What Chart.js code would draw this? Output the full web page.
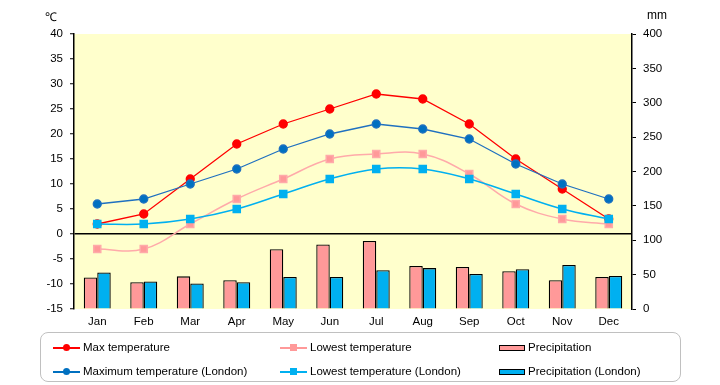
<!DOCTYPE html>
<html>
<head>
<meta charset="utf-8">
<script src="https://cdn.jsdelivr.net/npm/chart.js@4/dist/chart.umd.min.js"></script>
<style>
  body { margin: 0; background: #fff; font-family: "Liberation Sans", Arial, sans-serif; }
  #wrap { position: relative; width: 720px; height: 385px; }
  #chart { position: absolute; left: 0; top: 0; }
  .unit { position: absolute; font-size: 12px; color: #000; }
  #legend { position: absolute; left: 40px; top: 332px; width: 641px; height: 50px;
            border: 1px solid #c0c0c0; border-radius: 8px; box-sizing: border-box; }
  .item { position: absolute; font-size: 11.5px; color: #000; line-height: 14px; white-space: nowrap; }
  .sym { position: absolute; }
</style>
</head>
<body>
<div id="wrap">
  <canvas id="chart" width="720" height="385"></canvas>
  <div class="unit" style="left:45px;top:8px;">℃</div>
  <div class="unit" style="left:647px;top:8px;">mm</div>
  <div id="legend"></div>
</div>
<script>
// 月份
const months = ['Jan', 'Feb', 'Mar', 'Apr', 'May', 'Jun', 'Jul', 'Aug', 'Sep', 'Oct', 'Nov', 'Dec'];

// 气温 (℃)
const maxTemp = [2, 4, 11, 18, 22, 25, 28, 27, 22, 15, 9, 3];
const lowTemp = [-3, -3, 2, 7, 11, 15, 16, 16, 12, 6, 3, 2];
const maxTempLondon = [6, 7, 10, 13, 17, 20, 22, 21, 19, 14, 10, 7];
const lowTempLondon = [2, 2, 3, 5, 8, 11, 13, 13, 11, 8, 5, 3];

// 降水量 (mm)
const precip = [46, 39, 47.5, 42, 87, 94, 99, 62.5, 61, 55, 42, 46.5];
const precipLondon = [53, 40, 37, 39, 46.5, 46.5, 56.5, 59.5, 51, 58, 64, 48];

// 坐标轴刻度
const tempTicks = { min: -15, max: 40, step: 5 };
const rainTicks = { min: 0, max: 400, step: 50 };

// 图区背景
const plotBg = {
    id: 'plotBg',
    beforeDraw(chart) {
        const { ctx, chartArea: a } = chart;
        ctx.save();
        ctx.fillStyle = '#FFFFCC';
        ctx.fillRect(a.left, a.top, a.right - a.left, a.bottom - a.top);
        ctx.restore();
    }
};

const tickFont = { family: '"Liberation Sans", Arial, sans-serif', size: 11.5 };

new Chart(document.getElementById('chart'), {
    type: 'bar',
    data: {
        labels: months,
        datasets: [
            {
                label: 'Max temperature', type: 'line', data: maxTemp, yAxisID: 'y',
                borderColor: '#FF0000', backgroundColor: '#FF0000', borderWidth: 1.3,
                pointRadius: 4, pointStyle: 'circle', tension: 0, order: 4
            },
            {
                label: 'Lowest temperature', type: 'line', data: lowTemp, yAxisID: 'y',
                borderColor: '#FFAAAA', backgroundColor: '#FF9999', borderWidth: 1.5,
                pointRadius: 5, pointStyle: 'rect', tension: 0.4, order: 3
            },
            {
                label: 'Maximum temperature (London)', type: 'line', data: maxTempLondon, yAxisID: 'y',
                borderColor: '#1F70C0', backgroundColor: '#0070C0', borderWidth: 1.3,
                pointRadius: 4, pointStyle: 'circle', tension: 0, order: 2
            },
            {
                label: 'Lowest temperature (London)', type: 'line', data: lowTempLondon, yAxisID: 'y',
                borderColor: '#00B0F0', backgroundColor: '#00B0F0', borderWidth: 1.5,
                pointRadius: 5, pointStyle: 'rect', tension: 0.4, order: 1
            },
            {
                label: 'Precipitation', data: precip, yAxisID: 'y1',
                backgroundColor: '#FF9999', borderColor: '#000', borderWidth: 1.3,
                barPercentage: 1.0, categoryPercentage: 0.58, order: 10
            },
            {
                label: 'Precipitation (London)', data: precipLondon, yAxisID: 'y1',
                backgroundColor: '#00B0F0', borderColor: '#000', borderWidth: 1.3,
                barPercentage: 1.0, categoryPercentage: 0.58, order: 10
            }
        ]
    },
    options: {
        responsive: false,
        animation: false,
        layout: { padding: { left: 0, right: 0, top: 34, bottom: 0 } },
        plugins: {
            legend: { display: false },
            tooltip: { enabled: false }
        },
        scales: {
            x: {
                grid: { display: false },
                border: { display: false },
                ticks: { color: '#000', font: tickFont, padding: -2 },
                afterFit(s) { s.height = 76; }
            },
            y: {
                position: 'left',
                min: tempTicks.min, max: tempTicks.max,
                ticks: { stepSize: tempTicks.step, color: '#000', font: tickFont, padding: 7 },
                grid: {
                    color: (c) => (c.tick && c.tick.value === 0 ? '#000' : 'rgba(0,0,0,0)'),
                    lineWidth: 1.5,
                    tickColor: '#000', tickLength: 4, tickWidth: 1
                },
                border: { display: true, color: '#000', width: 1.5 },
                afterFit(s) { s.width = 74; }
            },
            y1: {
                position: 'right',
                min: rainTicks.min, max: rainTicks.max,
                ticks: { stepSize: rainTicks.step, color: '#000', font: tickFont, padding: 7 },
                grid: { drawOnChartArea: false, tickColor: '#000', tickLength: 4 },
                border: { display: true, color: '#000', width: 1.5 },
                afterFit(s) { s.width = 88; }
            }
        }
    },
    plugins: [plotBg]
});

// 图例
const legendItems = [
    { text: 'Max temperature', x: 12, y: 15, kind: 'dot', color: '#FF0000' },
    { text: 'Maximum temperature (London)', x: 12, y: 39, kind: 'dot', color: '#0070C0' },
    { text: 'Lowest temperature', x: 239, y: 15, kind: 'sq', color: '#FF9999' },
    { text: 'Lowest temperature (London)', x: 239, y: 39, kind: 'sq', color: '#00B0F0' },
    { text: 'Precipitation', x: 458, y: 15, kind: 'bar', color: '#FF9999' },
    { text: 'Precipitation (London)', x: 458, y: 39, kind: 'bar', color: '#00B0F0' }
];
const legend = document.getElementById('legend');
legendItems.forEach(it => {
    if (it.kind === 'bar') {
        const r = document.createElement('div');
        r.className = 'sym';
        r.style.cssText = `left:${it.x}px;top:${it.y - 3}px;width:24px;height:4px;background:${it.color};border:1px solid #000;`;
        legend.appendChild(r);
    } else {
        const l = document.createElement('div');
        l.className = 'sym';
        l.style.cssText = `left:${it.x}px;top:${it.y - 1}px;width:27px;height:1.5px;background:${it.color};`;
        legend.appendChild(l);
        const m = document.createElement('div');
        m.className = 'sym';
        m.style.cssText = `left:${it.x + 10}px;top:${it.y - 4}px;width:7px;height:7px;background:${it.color};` +
            (it.kind === 'dot' ? 'border-radius:50%;' : '');
        legend.appendChild(m);
    }
    const t = document.createElement('div');
    t.className = 'item';
    t.style.left = (it.x + (it.kind === 'bar' ? 29 : 30)) + 'px';
    t.style.top = (it.y - 8) + 'px';
    t.textContent = it.text;
    legend.appendChild(t);
});
</script>
</body>
</html>
